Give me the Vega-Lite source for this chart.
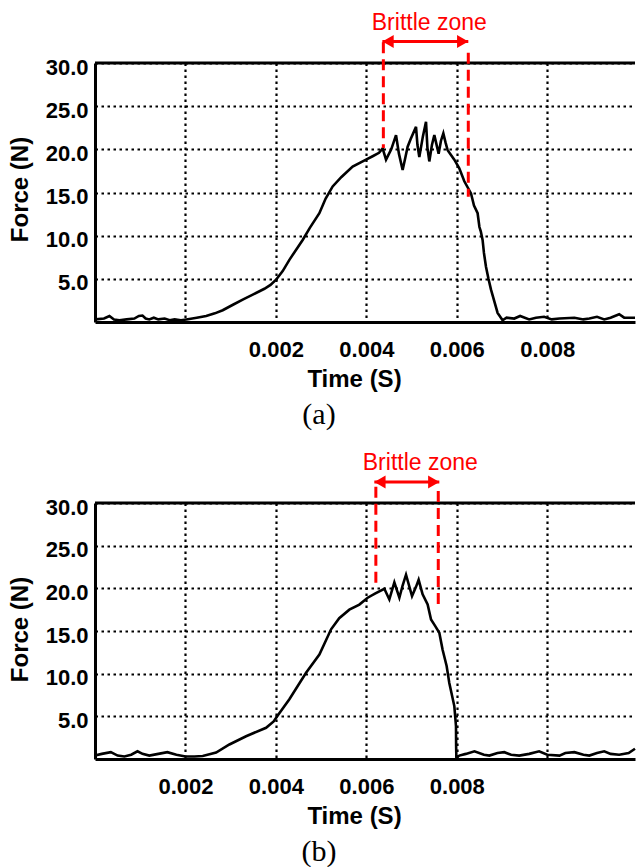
{
  "$schema": "https://vega.github.io/schema/vega-lite/v6.json",
  "background": "white",
  "padding": {"left": 7, "top": 12, "right": 0, "bottom": 0},
  "config": {
    "view": {"stroke": null},
    "axis": {
      "domainColor": "#000", "domainWidth": 3, "ticks": false,
      "gridColor": "#000", "gridOpacity": 1, "gridDash": [2.5, 3.5], "gridWidth": 2.2,
      "labelFont": "Liberation Sans", "labelFontWeight": "bold", "labelFontSize": 22, "labelColor": "#000",
      "titleFont": "Liberation Sans", "titleFontWeight": "bold", "titleFontSize": 24, "titleColor": "#000"
    }
  },
  "datasets": {
    "curveA": [
      {"t":-0.00199,"f":0.3},{"t":-0.0018,"f":0.4},{"t":-0.00168,"f":0.7},{"t":-0.00158,"f":0.3},{"t":-0.00146,"f":0.2},{"t":-0.0013,"f":0.3},{"t":-0.00113,"f":0.4},{"t":-0.00103,"f":0.7},{"t":-0.00095,"f":0.75},{"t":-0.00088,"f":0.4},{"t":-0.0008,"f":0.3},{"t":-0.0007,"f":0.5},{"t":-0.0006,"f":0.3},{"t":-0.00046,"f":0.4},{"t":-0.00035,"f":0.2},{"t":-0.00024,"f":0.3},{"t":-0.0001,"f":0.2},{"t":0.00002,"f":0.3},{"t":0.00025,"f":0.5},{"t":0.000457,"f":0.7},{"t":0.00065,"f":1.0},{"t":0.000824,"f":1.36},{"t":0.00105,"f":2.0},{"t":0.001266,"f":2.6},{"t":0.0015,"f":3.2},{"t":0.001746,"f":3.85},{"t":0.00188,"f":4.3},{"t":0.002004,"f":4.9},{"t":0.00215,"f":5.9},{"t":0.002298,"f":7.2},{"t":0.002592,"f":9.5},{"t":0.00275,"f":10.9},{"t":0.002961,"f":12.6},{"t":0.0031,"f":14.3},{"t":0.003255,"f":15.7},{"t":0.00345,"f":16.8},{"t":0.003697,"f":18.0},{"t":0.003993,"f":18.8},{"t":0.004139,"f":19.2},{"t":0.00428,"f":19.6},{"t":0.00436,"f":20.1},{"t":0.004435,"f":18.8},{"t":0.00455,"f":20.0},{"t":0.004656,"f":21.65},{"t":0.00472,"f":19.5},{"t":0.004802,"f":17.6},{"t":0.00486,"f":19.0},{"t":0.004913,"f":20.3},{"t":0.00498,"f":21.2},{"t":0.005098,"f":22.6},{"t":0.00513,"f":20.5},{"t":0.005171,"f":19.1},{"t":0.00525,"f":21.5},{"t":0.005319,"f":23.2},{"t":0.00535,"f":20.2},{"t":0.005392,"f":18.6},{"t":0.00545,"f":20.5},{"t":0.005503,"f":21.65},{"t":0.005598,"f":19.5},{"t":0.00565,"f":21.0},{"t":0.005702,"f":21.85},{"t":0.00575,"f":20.8},{"t":0.005797,"f":19.9},{"t":0.005945,"f":18.8},{"t":0.006055,"f":17.8},{"t":0.006166,"f":16.3},{"t":0.006314,"f":14.9},{"t":0.00638,"f":13.5},{"t":0.00646,"f":12.6},{"t":0.0065,"f":11.0},{"t":0.00653,"f":10.5},{"t":0.00657,"f":9.5},{"t":0.0066,"f":8.0},{"t":0.006645,"f":6.4},{"t":0.0067,"f":5.0},{"t":0.006756,"f":3.75},{"t":0.006902,"f":1.06},{"t":0.007012,"f":0.2},{"t":0.0071,"f":0.5},{"t":0.00727,"f":0.4},{"t":0.0074,"f":0.7},{"t":0.0076,"f":0.3},{"t":0.00775,"f":0.5},{"t":0.00793,"f":0.6},{"t":0.0081,"f":0.3},{"t":0.00827,"f":0.4},{"t":0.0086,"f":0.5},{"t":0.0088,"f":0.3},{"t":0.00893,"f":0.4},{"t":0.0091,"f":0.6},{"t":0.00926,"f":0.3},{"t":0.0094,"f":0.5},{"t":0.00959,"f":0.9},{"t":0.0097,"f":0.5},{"t":0.00994,"f":0.5}
    ],
    "curveB": [
      {"t":0.0,"f":0.4},{"t":0.00015,"f":0.6},{"t":0.00035,"f":0.8},{"t":0.0005,"f":0.4},{"t":0.00065,"f":0.3},{"t":0.0008,"f":0.5},{"t":0.00094,"f":0.9},{"t":0.00105,"f":0.6},{"t":0.0012,"f":0.4},{"t":0.0014,"f":0.6},{"t":0.0016,"f":0.8},{"t":0.0018,"f":0.5},{"t":0.002,"f":0.3},{"t":0.0022,"f":0.3},{"t":0.002382,"f":0.35},{"t":0.002678,"f":0.75},{"t":0.002972,"f":1.7},{"t":0.003341,"f":2.67},{"t":0.003783,"f":3.66},{"t":0.00395,"f":4.4},{"t":0.00404,"f":5.1},{"t":0.004298,"f":7.0},{"t":0.004667,"f":10.1},{"t":0.004961,"f":12.25},{"t":0.00522,"f":15.2},{"t":0.0054,"f":16.5},{"t":0.005624,"f":17.5},{"t":0.005845,"f":18.1},{"t":0.006029,"f":18.9},{"t":0.0062,"f":19.4},{"t":0.006398,"f":19.95},{"t":0.006508,"f":18.7},{"t":0.006619,"f":20.7},{"t":0.00673,"f":18.9},{"t":0.0068,"f":20.3},{"t":0.006877,"f":21.6},{"t":0.00701,"f":19.1},{"t":0.0071,"f":20.2},{"t":0.007156,"f":21.0},{"t":0.007244,"f":19.3},{"t":0.007355,"f":18.1},{"t":0.00743,"f":16.35},{"t":0.00752,"f":15.6},{"t":0.007613,"f":14.8},{"t":0.007686,"f":12.8},{"t":0.007775,"f":10.9},{"t":0.007834,"f":8.9},{"t":0.007945,"f":6.2},{"t":0.007982,"f":3.85},{"t":0.007985,"f":1.5},{"t":0.00799,"f":0.14},{"t":0.008055,"f":0.4},{"t":0.0082,"f":0.6},{"t":0.00839,"f":0.9},{"t":0.0086,"f":0.5},{"t":0.00872,"f":0.4},{"t":0.0089,"f":0.7},{"t":0.00905,"f":0.8},{"t":0.0092,"f":0.5},{"t":0.00938,"f":0.4},{"t":0.0096,"f":0.6},{"t":0.00982,"f":0.9},{"t":0.01,"f":0.5},{"t":0.01027,"f":0.4},{"t":0.0104,"f":0.7},{"t":0.0106,"f":0.8},{"t":0.0108,"f":0.5},{"t":0.01093,"f":0.4},{"t":0.0111,"f":0.7},{"t":0.01126,"f":0.9},{"t":0.0114,"f":0.6},{"t":0.01159,"f":0.5},{"t":0.0118,"f":0.7},{"t":0.01194,"f":1.2}
    ],
    "dashA": [{"t":0.004376,"f1":32.4,"f2":20.15},{"t":0.006254,"f1":31.2,"f2":14.5}],
    "arrowA": [{"t1":0.004354,"t2":0.006254,"f":32.5}],
    "headA": [{"t":0.00448,"f":32.5,"dir":"triangle-left"},{"t":0.00613,"f":32.5,"dir":"triangle-right"}],
    "labelA": [{"t":0.005392,"f":33.8,"label":"Brittle zone"}],
    "dashB": [{"t":0.00621,"f1":31.9,"f2":20.2},{"t":0.00759,"f1":31.4,"f2":17.9}],
    "arrowB": [{"t1":0.006177,"t2":0.007613,"f":32.45}],
    "headB": [{"t":0.0063,"f":32.45,"dir":"triangle-left"},{"t":0.00749,"f":32.45,"dir":"triangle-right"}],
    "labelB": [{"t":0.007193,"f":33.9,"label":"Brittle zone"}],
    "one": [{"k":1}]
  },
  "spacing": 181,
  "bounds": "flush",
  "vconcat": [
    {
      "width": 540, "height": 259,
      "title": {"text": "(a)", "orient": "bottom", "font": "Liberation Serif", "fontSize": 30, "fontWeight": "normal", "color": "#000", "dx": -46, "offset": 8},
      "layer": [
        {
          "data": {"name": "curveA"},
          "mark": {"type": "line", "color": "#000", "strokeWidth": 2.6},
          "encoding": {
            "x": {"field": "t", "type": "quantitative", "scale": {"domain": [-0.002, 0.00994], "nice": false, "zero": false},
              "axis": {"values": [0, 0.002, 0.004, 0.006, 0.008], "labelExpr": "datum.value < 0.001 ? '' : format(datum.value, '.3f')", "labelPadding": 17, "title": "Time (S)", "titleX": 259, "titleY": 64.5, "titleBaseline": "alphabetic", "titleAlign": "center"}},
            "y": {"field": "f", "type": "quantitative", "scale": {"domain": [0, 30], "nice": false},
              "axis": {"values": [5, 10, 15, 20, 25, 30], "format": ".1f", "labelPadding": 7, "labelOffset": 4, "title": "Force (N)", "titleX": -68, "titleY": 126, "titleBaseline": "alphabetic", "titleAlign": "center"}}
          }
        },
        {
          "data": {"name": "one"},
          "mark": {"type": "rule", "color": "#000", "strokeWidth": 3},
          "encoding": {"y": {"datum": 30}}
        },
        {
          "data": {"name": "dashA"},
          "mark": {"type": "rule", "color": "#ff0000", "strokeWidth": 3, "strokeDash": [11, 6], "clip": false},
          "encoding": {"x": {"field": "t", "type": "quantitative"}, "y": {"field": "f1", "type": "quantitative"}, "y2": {"field": "f2"}}
        },
        {
          "data": {"name": "arrowA"},
          "mark": {"type": "rule", "color": "#ff0000", "strokeWidth": 3, "clip": false},
          "encoding": {"x": {"field": "t1", "type": "quantitative"}, "x2": {"field": "t2"}, "y": {"field": "f", "type": "quantitative"}}
        },
        {
          "data": {"name": "headA"},
          "mark": {"type": "point", "filled": true, "color": "#ff0000", "opacity": 1, "size": 170, "clip": false},
          "encoding": {"x": {"field": "t", "type": "quantitative"}, "y": {"field": "f", "type": "quantitative"}, "shape": {"field": "dir", "type": "nominal", "scale": null}}
        },
        {
          "data": {"name": "labelA"},
          "mark": {"type": "text", "color": "#ff0000", "font": "Liberation Sans", "fontSize": 23, "align": "center", "baseline": "alphabetic", "clip": false},
          "encoding": {"x": {"field": "t", "type": "quantitative"}, "y": {"field": "f", "type": "quantitative"}, "text": {"field": "label"}}
        }
      ]
    },
    {
      "width": 540, "height": 256,
      "title": {"text": "(b)", "orient": "bottom", "font": "Liberation Serif", "fontSize": 30, "fontWeight": "normal", "color": "#000", "dx": -46, "offset": 8},
      "layer": [
        {
          "data": {"name": "curveB"},
          "mark": {"type": "line", "color": "#000", "strokeWidth": 2.6},
          "encoding": {
            "x": {"field": "t", "type": "quantitative", "scale": {"domain": [0, 0.01194], "nice": false, "zero": false},
              "axis": {"values": [0.002, 0.004, 0.006, 0.008, 0.01], "labelExpr": "datum.value > 0.009 ? '' : format(datum.value, '.3f')", "labelPadding": 17, "title": "Time (S)", "titleX": 259, "titleY": 64.5, "titleBaseline": "alphabetic", "titleAlign": "center"}},
            "y": {"field": "f", "type": "quantitative", "scale": {"domain": [0, 30], "nice": false},
              "axis": {"values": [5, 10, 15, 20, 25, 30], "format": ".1f", "labelPadding": 7, "labelOffset": 4, "title": "Force (N)", "titleX": -68, "titleY": 126, "titleBaseline": "alphabetic", "titleAlign": "center"}}
          }
        },
        {
          "data": {"name": "one"},
          "mark": {"type": "rule", "color": "#000", "strokeWidth": 3},
          "encoding": {"y": {"datum": 30}}
        },
        {
          "data": {"name": "dashB"},
          "mark": {"type": "rule", "color": "#ff0000", "strokeWidth": 3, "strokeDash": [11, 6], "clip": false},
          "encoding": {"x": {"field": "t", "type": "quantitative"}, "y": {"field": "f1", "type": "quantitative"}, "y2": {"field": "f2"}}
        },
        {
          "data": {"name": "arrowB"},
          "mark": {"type": "rule", "color": "#ff0000", "strokeWidth": 3, "clip": false},
          "encoding": {"x": {"field": "t1", "type": "quantitative"}, "x2": {"field": "t2"}, "y": {"field": "f", "type": "quantitative"}}
        },
        {
          "data": {"name": "headB"},
          "mark": {"type": "point", "filled": true, "color": "#ff0000", "opacity": 1, "size": 170, "clip": false},
          "encoding": {"x": {"field": "t", "type": "quantitative"}, "y": {"field": "f", "type": "quantitative"}, "shape": {"field": "dir", "type": "nominal", "scale": null}}
        },
        {
          "data": {"name": "labelB"},
          "mark": {"type": "text", "color": "#ff0000", "font": "Liberation Sans", "fontSize": 23, "align": "center", "baseline": "alphabetic", "clip": false},
          "encoding": {"x": {"field": "t", "type": "quantitative"}, "y": {"field": "f", "type": "quantitative"}, "text": {"field": "label"}}
        }
      ]
    }
  ]
}
